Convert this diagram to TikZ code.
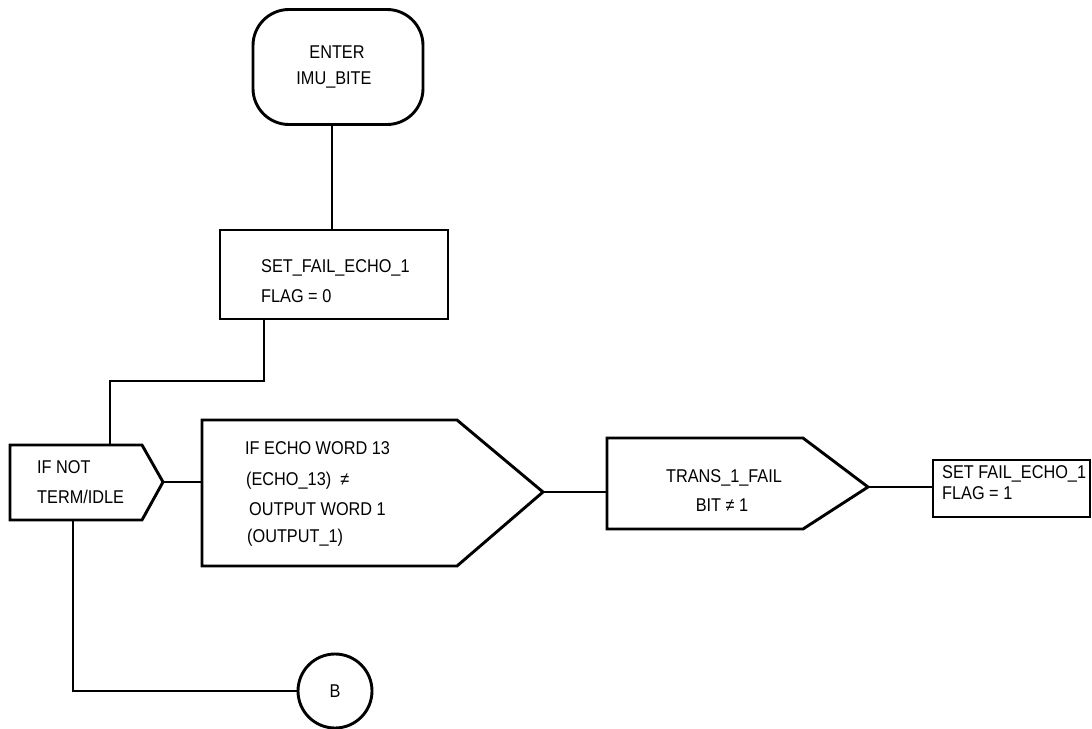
\documentclass[tikz,border=0pt]{standalone}
\usepackage{fontspec}
\setmainfont{Liberation Sans}[FakeStretch=0.88]
\begin{document}
\begin{tikzpicture}[x=1pt,y=-1pt,
  shapeline/.style={line width=2.9pt, line join=miter},
  conn/.style={line width=2.9pt},
  txt/.style={inner sep=0pt, anchor=west, font=\fontsize{18.5}{20}\selectfont},
  ctxt/.style={inner sep=0pt, anchor=center, font=\fontsize{18.5}{20}\selectfont}]
\useasboundingbox (0,0) rectangle (1092,728);
% terminal
\node[draw, shapeline, rounded corners=36pt, minimum width=170pt, minimum height=115pt, inner sep=0pt] (enter) at (338,67) {};
\node[ctxt] (enter-t1) at (337,52) {ENTER};
\node[ctxt] (enter-t2) at (334,80) {IMU\_BITE};
% set box
\node[draw, shapeline, minimum width=228pt, minimum height=89pt, inner sep=0pt] (setbox) at (334,274.5) {};
\node[txt] (setbox-t1) at (261,268) {SET\_FAIL\_ECHO\_1};
\node[txt] (setbox-t2) at (261,296) {FLAG = 0};
% if not
\draw[shapeline] (10,445) -- (142,445) -- (163,482) -- (142,520) -- (10,520) -- cycle;
\coordinate (ifnot-tip) at (163,482);
\coordinate (ifnot-top) at (110,445);
\coordinate (ifnot-bot) at (73,520);
\node[txt] (ifnot-t1) at (37,467) {IF NOT};
\node[txt] (ifnot-t2) at (37,497) {TERM/IDLE};
% if echo
\draw[shapeline] (202,420) -- (457,420) -- (543,492) -- (457,566) -- (202,566) -- cycle;
\coordinate (echo-left) at (202,482);
\coordinate (echo-tip) at (543,492);
\node[txt] (echo-t1) at (245,448) {IF ECHO WORD 13};
\node[txt] (echo-t2) at (246,481) {(ECHO\_13) \ ≠};
\node[txt] (echo-t3) at (249,509) {OUTPUT WORD 1};
\node[txt] (echo-t4) at (247,538) {(OUTPUT\_1)};
% trans
\draw[shapeline] (607,438) -- (803,438) -- (868,487) -- (803,529) -- (607,529) -- cycle;
\coordinate (trans-left) at (607,492);
\coordinate (trans-tip) at (868,487);
\node[ctxt] (trans-t1) at (724,478) {TRANS\_1\_FAIL};
\node[ctxt] (trans-t2) at (722,505) {BIT ≠ 1};
% set fail box
\node[draw, shapeline, minimum width=157pt, minimum height=57pt, inner sep=0pt] (setfail) at (1011.5,488.5) {};
\node[txt] (setfail-t1) at (942,474) {SET FAIL\_ECHO\_1};
\node[txt] (setfail-t2) at (942,493) {FLAG = 1};
% connector B
\node[draw, shapeline, circle, minimum size=74pt, inner sep=0pt] (B) at (335,691) {};
\node[ctxt] (B-t) at (335,691) {B};
% connectors
\draw[conn] ([xshift=-6pt]enter.south) -- ([xshift=-6pt]enter.south |- setbox.north);
\coordinate (j1) at (110,381);
\draw[conn] ([xshift=-70pt]setbox.south) |- (j1) -- (ifnot-top);
\draw[conn] (ifnot-tip) -- (echo-left);
\draw[conn] (echo-tip) -- (trans-left);
\draw[conn] (trans-tip) -- (trans-tip -| setfail.west);
\draw[conn] (ifnot-bot) |- (B.west);
\end{tikzpicture}
\end{document}
